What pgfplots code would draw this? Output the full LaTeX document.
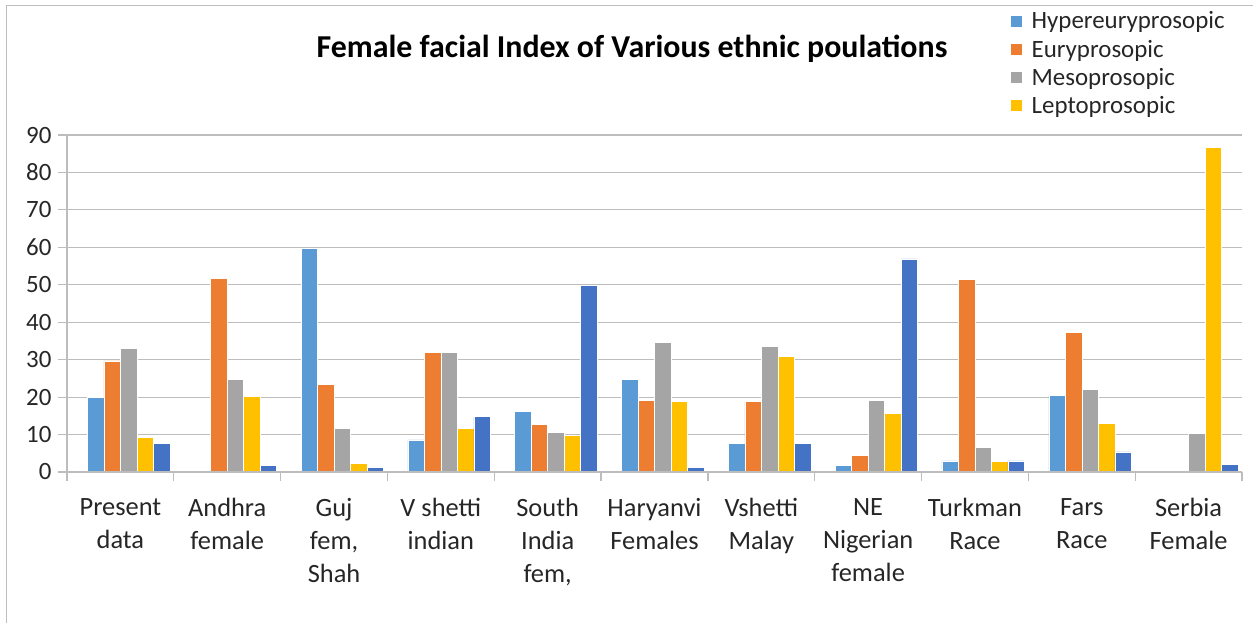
\documentclass[border=0pt]{standalone}
\usepackage{pgfplots}
\pgfplotsset{compat=1.18}
\usepackage{fontspec}
\setmainfont{Carlito}
\definecolor{cA}{HTML}{5B9BD5}
\definecolor{cB}{HTML}{ED7D31}
\definecolor{cC}{HTML}{A5A5A5}
\definecolor{cD}{HTML}{FFC000}
\definecolor{cE}{HTML}{4472C4}
\definecolor{gridc}{HTML}{BDBDBD}
\definecolor{txt}{HTML}{262626}
\begin{document}
\begin{tikzpicture}
\path[use as bounding box] (-67bp,-151bp) rectangle (1186bp,472bp);
\begin{axis}[
  scale only axis, width=1175bp, height=337bp,
  at={(0,0)}, anchor=south west,
  ybar=0pt, bar width=16.5bp,
  xmin=-0.5, xmax=10.5, ymin=0, ymax=90,
  ytick={0,10,...,90},
  ymajorgrids, grid style={gridc, line width=1.2bp},
  axis x line=bottom, axis y line=left,
  axis line style={-, gridc, line width=1.2bp},
  tick align=outside,
  major tick length=9bp,
  tick style={gridc, line width=1.2bp},
  xtick={-0.5,0.5,...,10.5},
  x tick label as interval,
  xticklabels={{Present\\data},{Andhra\\female},{Guj\\fem,\\Shah},{V shetti\\indian},{South\\India\\fem,},{Haryanvi\\Females},{Vshetti\\Malay},{NE\\Nigerian\\female},{Turkman\\Race},{Fars\\Race},{Serbia\\Female}},
  xticklabel style={align=center, font=\fontsize{26.5}{33}\selectfont, text=txt, anchor=north, yshift=-14bp},
  yticklabel style={font=\fontsize{25}{28}\selectfont, text=txt, xshift=-3bp},
  /pgf/number format/assume math mode=true,
  legend style={draw=none, fill=none, at={(0.8,1.378)}, anchor=north west,
    font=\fontsize{25}{28}\selectfont, text=txt, row sep=5.5bp,
    legend cell align=left},
  legend image code/.code={\fill[#1] (0bp,-6bp) rectangle (12bp,6bp); \path (19bp,0bp);},
  every axis plot/.append style={draw=white, line width=0.5bp},
]
\addplot[fill=cA] coordinates {(0,20) (1,0.4) (2,59.8) (3,8.6) (4,16.1) (5,24.7) (6,7.6) (7,1.7) (8,3.0) (9,20.5) (10,0)};
\addlegendentry{Hypereuryprosopic}
\addplot[fill=cB] coordinates {(0,29.7) (1,51.7) (2,23.4) (3,31.9) (4,12.7) (5,19.2) (6,18.8) (7,4.5) (8,51.4) (9,37.3) (10,0)};
\addlegendentry{Euryprosopic}
\addplot[fill=cC] coordinates {(0,33) (1,24.7) (2,11.6) (3,31.9) (4,10.5) (5,34.7) (6,33.6) (7,19.2) (8,6.5) (9,22.0) (10,10.3)};
\addlegendentry{Mesoprosopic}
\addplot[fill=cD] coordinates {(0,9.3) (1,20.2) (2,2.4) (3,11.6) (4,9.7) (5,18.8) (6,30.8) (7,15.7) (8,2.8) (9,13.0) (10,86.7)};
\addlegendentry{Leptoprosopic}
\addplot[fill=cE, forget plot] coordinates {(0,7.6) (1,1.7) (2,1.3) (3,14.8) (4,49.8) (5,1.3) (6,7.6) (7,56.9) (8,3.0) (9,5.4) (10,2.1)};
\draw[gridc, line width=1.2bp] (rel axis cs:0,0) -- (rel axis cs:1,0);
\end{axis}
\node[font=\fontsize{32}{36}\selectfont\bfseries, text=black] at (565bp,423bp) {Female facial Index of Various ethnic poulations};
\draw[gridc, line width=1bp] (-60bp,-151bp) -- (-60bp,466bp) -- (1186bp,466bp);
\end{tikzpicture}
\end{document}
